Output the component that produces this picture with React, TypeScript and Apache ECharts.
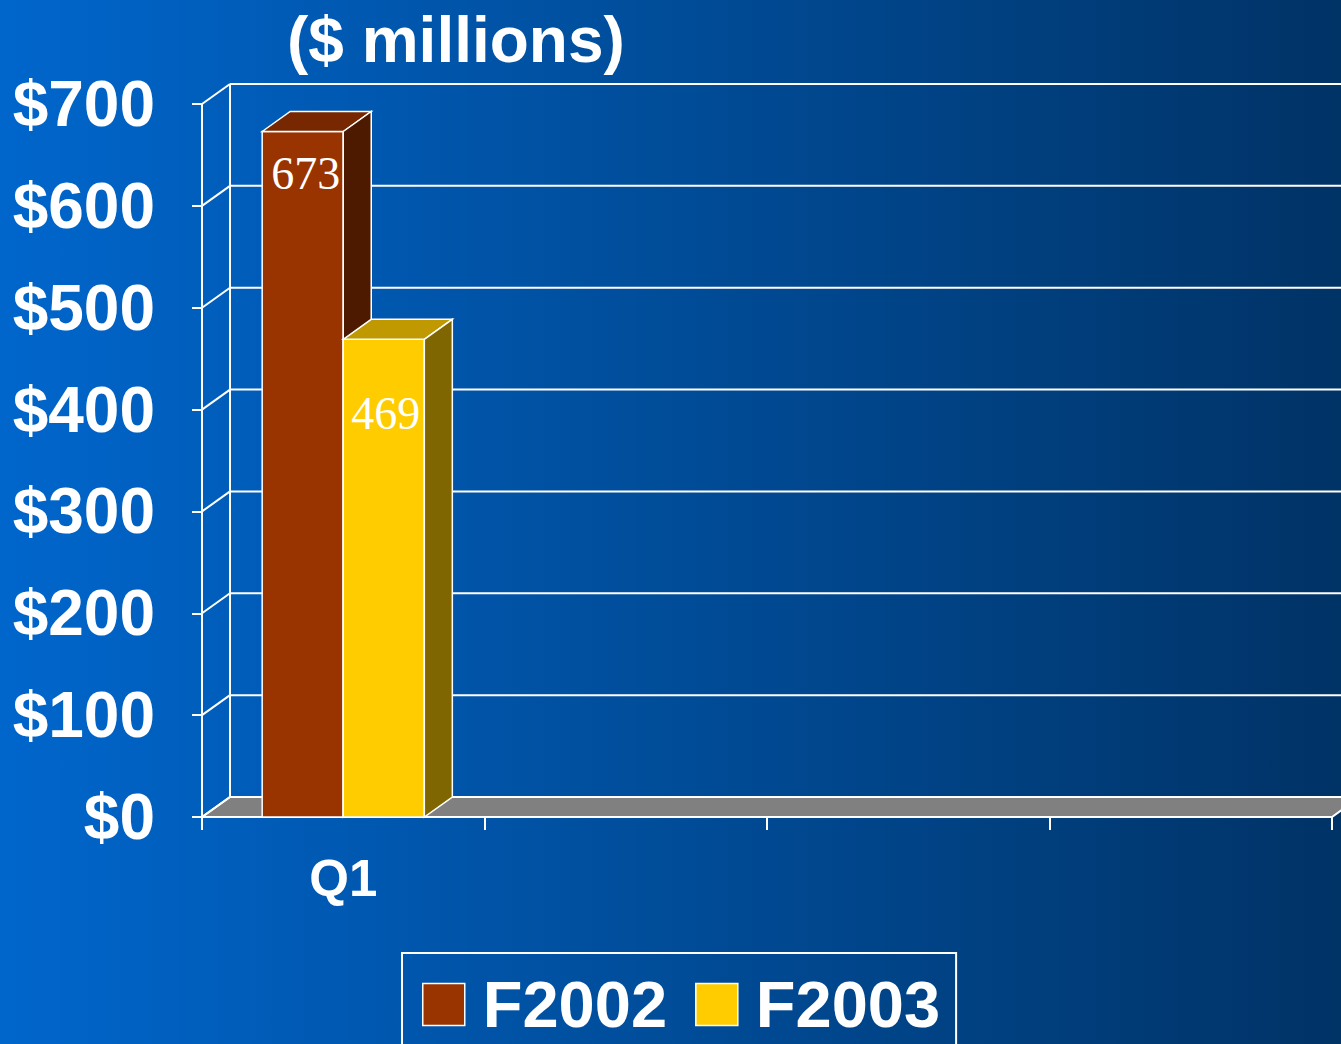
import React, { useEffect, useRef } from "react";
import * as echarts from "echarts";

const categories = ["Q1", " ", "  ", "   "];
const seriesNames = ["F2002", "F2003"];
const f2002: (number | null)[] = [673, null, null, null];
const f2003: (number | null)[] = [469, null, null, null];
const yMin = 0;
const yMax = 700;
const yStep = 100;
const titleText = "($ millions)";

const DX = 28;
const DY = -20;
const BAR_FRAC = 0.287;
const FONT = '"Liberation Sans", Arial, sans-serif';

const barColors = [
  { front: "#993300", top: "#772800", side: "#4d1a00" },
  { front: "#FFCC00", top: "#C09900", side: "#806600" },
];
const labelOffsets = [
  { dx: 3, dy: 42 },
  { dx: 2, dy: 74 },
];

function frameRender(params: any, api: any) {
  const cs = params.coordSys;
  const left = cs.x;
  const right = cs.x + cs.width;
  const top = cs.y;
  const bottom = cs.y + cs.height;
  const ls = { stroke: "#ffffff", lineWidth: 2 };
  const children: any[] = [];
  children.push({
    type: "polygon",
    shape: {
      points: [
        [left, bottom],
        [left + DX, bottom + DY],
        [right + DX, bottom + DY],
        [right, bottom],
      ],
    },
    style: { fill: "#808080", stroke: "#ffffff", lineWidth: 2 },
  });
  for (let v = yMin; v <= yMax; v += yStep) {
    const y = api.coord([0, v])[1];
    if (v > yMin) {
      children.push({
        type: "line",
        shape: { x1: left + DX, y1: y + DY, x2: right + DX + 40, y2: y + DY },
        style: ls,
      });
    }
    children.push({
      type: "line",
      shape: { x1: left, y1: y, x2: left + DX, y2: y + DY },
      style: ls,
    });
  }
  children.push({
    type: "line",
    shape: { x1: left + DX, y1: top + DY, x2: left + DX, y2: bottom + DY },
    style: ls,
  });
  return { type: "group", children };
}

function makeBarRender(slot: number) {
  return function (params: any, api: any) {
    const idx = api.value(0);
    const val = api.value(1);
    if (val == null || isNaN(val)) return null;
    const c = api.coord([idx, val]);
    const b = api.coord([idx, 0]);
    const band = api.size([1, 0])[0];
    const w = band * BAR_FRAC;
    const x0 = c[0] - (w * seriesNames.length) / 2 + slot * w;
    const top = c[1];
    const base = b[1];
    const col = barColors[slot];
    const st = { stroke: "#ffffff", lineWidth: 1.5 };
    return {
      type: "group",
      children: [
        {
          type: "polygon",
          shape: {
            points: [
              [x0, top],
              [x0 + w, top],
              [x0 + w, base],
              [x0, base],
            ],
          },
          style: { ...st, fill: col.front },
        },
        {
          type: "polygon",
          shape: {
            points: [
              [x0, top],
              [x0 + DX, top + DY],
              [x0 + w + DX, top + DY],
              [x0 + w, top],
            ],
          },
          style: { ...st, fill: col.top },
        },
        {
          type: "polygon",
          shape: {
            points: [
              [x0 + w, top],
              [x0 + w + DX, top + DY],
              [x0 + w + DX, base + DY],
              [x0 + w, base],
            ],
          },
          style: { ...st, fill: col.side },
        },
        {
          type: "text",
          x: x0 + w / 2 + labelOffsets[slot].dx,
          y: top + labelOffsets[slot].dy,
          style: {
            text: String(val),
            fill: "#ffffff",
            fontSize: 46,
            fontFamily: '"Liberation Serif", "Times New Roman", serif',
            align: "center",
            verticalAlign: "middle",
          },
        },
      ],
    };
  };
}

export default function App() {
  const ref = useRef<HTMLDivElement>(null);
  useEffect(() => {
    document.body.style.margin = "0";
    if (!ref.current) return;
    const chart = echarts.init(ref.current, undefined, { renderer: "svg" });
    const option: any = {
      animation: false,
      backgroundColor: {
        type: "linear",
        x: 0,
        y: 0,
        x2: 1,
        y2: 0,
        colorStops: [
          { offset: 0, color: "#0066CC" },
          { offset: 1, color: "#003366" },
        ],
      },
      graphic: [
        {
          type: "text",
          left: 287,
          top: 8,
          style: {
            text: titleText,
            fill: "#ffffff",
            fontSize: 64,
            fontWeight: "bold",
            fontFamily: FONT,
          },
        },
      ],
      legend: {
        data: seriesNames,
        left: 402,
        top: 953,
        orient: "horizontal",
        icon: "rect",
        itemWidth: 42,
        itemHeight: 42,
        itemGap: 28,
        padding: [19, 16, 60, 20],
        borderColor: "#ffffff",
        borderWidth: 2,
        itemStyle: { borderColor: "#ffffff", borderWidth: 1.5 },
        textStyle: {
          color: "#ffffff",
          fontSize: 65,
          fontWeight: "bold",
          fontFamily: FONT,
          padding: [0, 0, 0, 13],
        },
      },
      grid: { left: 202, top: 104, width: 1130, height: 713 },
      xAxis: {
        type: "category",
        data: categories,
        boundaryGap: true,
        axisLine: { show: true, lineStyle: { color: "#ffffff", width: 2 } },
        axisTick: { show: true, interval: 0, length: 13, lineStyle: { color: "#ffffff", width: 2 } },
        axisLabel: {
          interval: 0,
          color: "#ffffff",
          fontSize: 51,
          fontWeight: "bold",
          fontFamily: FONT,
          margin: 36,
        },
        splitLine: { show: false },
      },
      yAxis: {
        type: "value",
        min: yMin,
        max: yMax,
        interval: yStep,
        axisLine: { show: true, lineStyle: { color: "#ffffff", width: 2 } },
        axisTick: { show: true, length: 10, lineStyle: { color: "#ffffff", width: 2 } },
        axisLabel: {
          formatter: (v: number) => "$" + v,
          color: "#ffffff",
          fontSize: 64,
          fontWeight: "bold",
          fontFamily: FONT,
          margin: 47,
          padding: [5, 0, 0, 0],
        },
        splitLine: { show: false },
      },
      series: [
        {
          type: "custom",
          name: "frame",
          renderItem: frameRender,
          data: [[0, 0]],
          z: 1,
          silent: true,
        },
        {
          type: "custom",
          name: seriesNames[0],
          renderItem: makeBarRender(0),
          itemStyle: { color: barColors[0].front },
          data: f2002.map((v, i) => [i, v]),
          z: 2,
        },
        {
          type: "custom",
          name: seriesNames[1],
          renderItem: makeBarRender(1),
          itemStyle: { color: barColors[1].front },
          data: f2003.map((v, i) => [i, v]),
          z: 3,
        },
      ],
    };
    chart.setOption(option);
    return () => chart.dispose();
  }, []);
  return <div ref={ref} style={{ width: 1341, height: 1044 }} />;
}
